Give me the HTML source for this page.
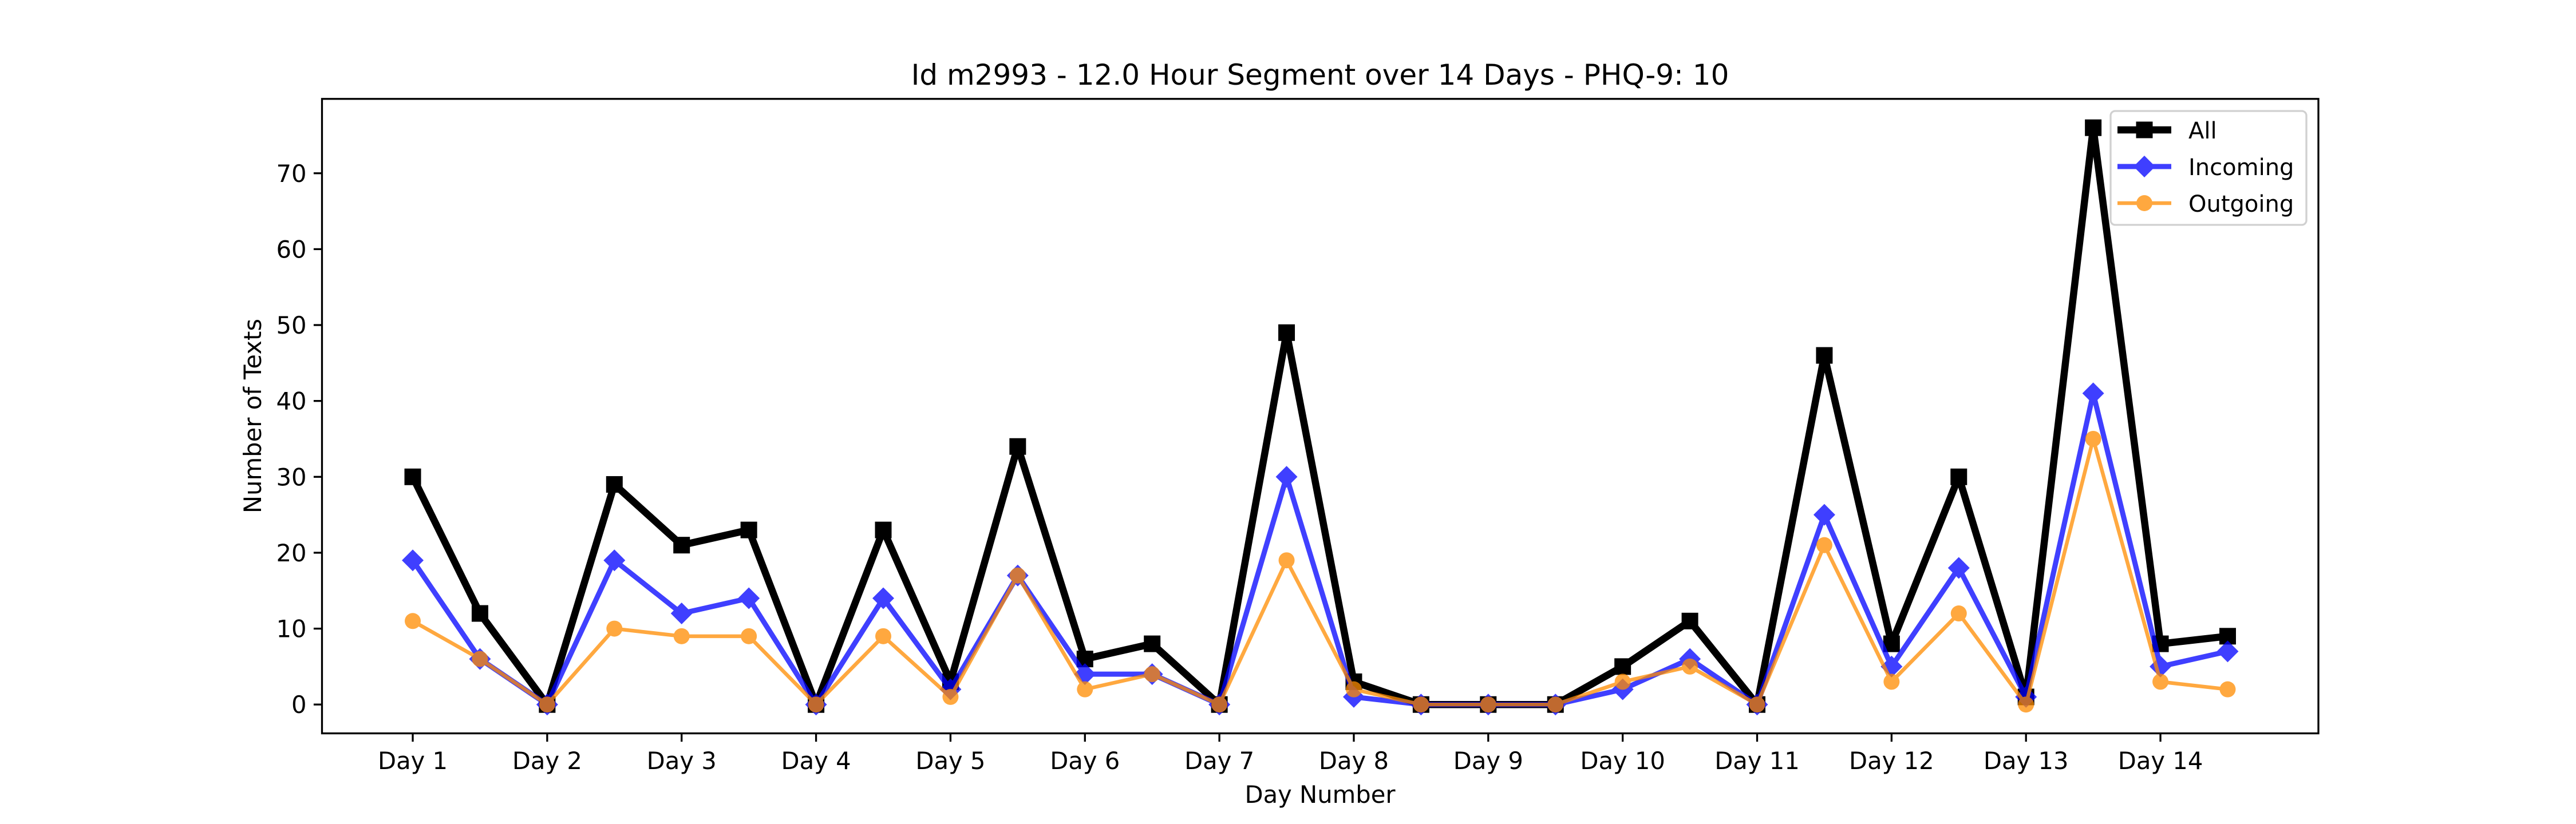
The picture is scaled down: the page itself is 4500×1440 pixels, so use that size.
<!DOCTYPE html>
<html><head><meta charset="utf-8"><style>
html,body{margin:0;padding:0;background:#fff;}
svg{display:block;font-family:"DejaVu Sans","Liberation Sans",sans-serif;}
</style></head><body>
<svg id="chart" width="4500" height="1440" viewBox="0 0 4500 1440" xmlns="http://www.w3.org/2000/svg">
<rect width="4500" height="1440" fill="#fff"/>
<text x="2306" y="148" font-size="50" text-anchor="middle">Id m2993 - 12.0 Hour Segment over 14 Days - PHQ-9: 10</text>
<g id="series"></g>
<rect x="562.5" y="172.8" width="3487.5" height="1108.8" fill="none" stroke="#000" stroke-width="3.3"/>
<g id="axes"></g>
<text x="2306" y="1403" font-size="41.7" text-anchor="middle">Day Number</text>
<text transform="translate(456,727) rotate(-90)" font-size="41.7" text-anchor="middle">Number of Texts</text>
<g id="legend"></g>
</svg>
<script>
const allTexts = [30,12,0,29,21,23,0,23,3,34,6,8,0,49,3,0,0,0,5,11,0,46,8,30,1,76,8,9];
const incomingTexts = [19,6,0,19,12,14,0,14,2,17,4,4,0,30,1,0,0,0,2,6,0,25,5,18,1,41,5,7];
const outgoingTexts = [11,6,0,10,9,9,0,9,1,17,2,4,0,19,2,0,0,0,3,5,0,21,3,12,0,35,3,2];
const dayLabels = ["Day 1","Day 2","Day 3","Day 4","Day 5","Day 6","Day 7","Day 8","Day 9","Day 10","Day 11","Day 12","Day 13","Day 14"];
const yTicks = [0,10,20,30,40,50,60,70];

const NS = "http://www.w3.org/2000/svg";
const L=562.5, R=4050, T=172.8, B=1281.6;
const n = allTexts.length;
const xmin = -(n-1)*0.05, xmax = (n-1)*1.05;
const dmax = Math.max(...allTexts, ...incomingTexts, ...outgoingTexts);
const ymin = -dmax*0.05, ymax = dmax*1.05;
function xs(i){return L + (i - xmin)/(xmax - xmin)*(R-L);}
function ys(v){return B - (v - ymin)/(ymax - ymin)*(B-T);}
function mk(tag, attrs, parent){const e=document.createElementNS(NS,tag);for(const k in attrs)e.setAttribute(k,attrs[k]);parent.appendChild(e);return e;}

const axes = document.getElementById('axes');
yTicks.forEach(v=>{
  const y=ys(v);
  const t=mk('line',{x1:L-14.6,x2:L,y1:y,y2:y,stroke:'#000','stroke-width':3.3},axes);
  
  
  const tx=mk('text',{x:L-27,y:y+15,'font-size':41.7,'text-anchor':'end'},axes);
  tx.textContent=v;
  
  
});
dayLabels.forEach((d,k)=>{
  const x=xs(2*k);
  const t=mk('line',{x1:x,x2:x,y1:B,y2:B+14.6,stroke:'#000','stroke-width':3.3},axes);
  
  
  const tx=mk('text',{x:x,y:1344,'font-size':41.7,'text-anchor':'middle'},axes);
  tx.textContent=d;
  
  
});

function marker(g, type, x, y, color){
  let e;
  if(type==='square'){e=mk('rect',{x:x-14.5,y:y-14.5,width:29,height:29,fill:color},g);}
  else if(type==='diamond'){e=mk('polygon',{points:`${x},${y-19} ${x+19},${y} ${x},${y+19} ${x-19},${y}`,fill:color},g);}
  else {e=mk('circle',{cx:x,cy:y,r:14},g);e.setAttribute('fill',color);}
  return e;
}
const seriesDefs = [
  {name:'all', label:'All', data:allTexts, color:'#000000', op:1, w:12.5, m:'square'},
  {name:'incoming', label:'Incoming', data:incomingTexts, color:'#0000ff', op:0.75, w:9, m:'diamond'},
  {name:'outgoing', label:'Outgoing', data:outgoingTexts, color:'#ff8c00', op:0.75, w:6.5, m:'circle'}
];
const sg=document.getElementById('series');
seriesDefs.forEach(s=>{
  const g=mk('g',{opacity:s.op},sg);
  
  
  const pts=s.data.map((v,i)=>xs(i)+','+ys(v)).join(' ');
  const pl=mk('polyline',{points:pts,fill:'none',stroke:s.color,'stroke-width':s.w,'stroke-linejoin':'round','stroke-linecap':'round'},g);
  
  
  s.data.forEach((v,i)=>{
    const e=marker(g,s.m,xs(i),ys(v),s.color);
    
    
  });
});

const lg=document.getElementById('legend');
const box=mk('rect',{x:3687,y:194,width:342,height:199,rx:8,fill:'#fff','fill-opacity':0.8,stroke:'#d0d0d0','stroke-width':3.3},lg);


seriesDefs.forEach((s,k)=>{
  const y=227+k*64;
  const g=mk('g',{opacity:s.op},lg);
  
  
  mk('line',{x1:3699,x2:3793,y1:y,y2:y,stroke:s.color,'stroke-width':s.w},g);
  marker(g,s.m,3746,y,s.color);
  const tx=mk('text',{x:3823,y:y+15,'font-size':40,fill:'#000'},lg);
  tx.textContent=s.label;
  
  
});
</script>
</body></html>
